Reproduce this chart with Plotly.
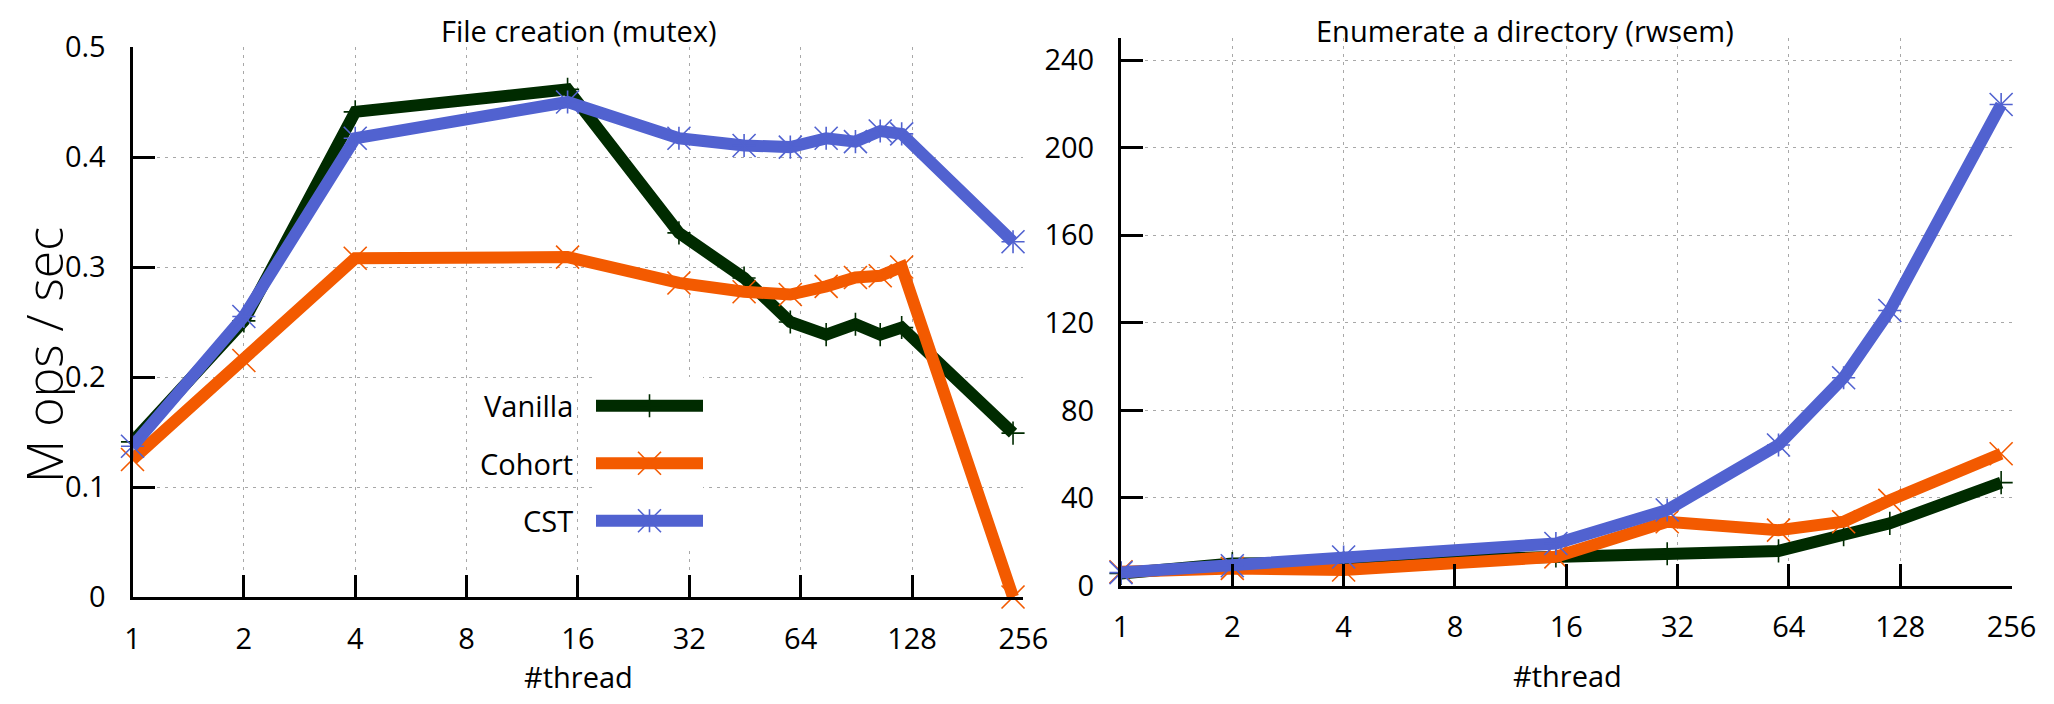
import math
import plotly.graph_objects as go

# page has an 8px body margin: figure fills the window inside it
OFF = 8
W, H = 2054 - 2 * OFF, 704 - 2 * OFF

# ---------------- data ----------------
threads_left = [1, 2, 4, 15, 30, 45, 60, 75, 90, 105, 120, 240]
vanilla_left = [0.141, 0.251, 0.441, 0.4615, 0.331, 0.290, 0.250, 0.2385, 0.248, 0.2385, 0.245, 0.149]
cohort_left = [0.125, 0.215, 0.308, 0.309, 0.2855, 0.2775, 0.275, 0.2824, 0.2905, 0.292, 0.300, 0.0]
cst_left = [0.137, 0.255, 0.417, 0.450, 0.417, 0.4105, 0.409, 0.417, 0.414, 0.4236, 0.421, 0.323]

threads_right = [1, 2, 4, 15, 30, 60, 90, 120, 240]
vanilla_right = [5.5, 10.0, 10.5, 13.5, 14.5, 15.8, 23.2, 28.4, 47.0]
cohort_right = [6.3, 7.8, 7.1, 13.1, 29.1, 25.3, 29.1, 38.9, 60.2]
cst_right = [5.9, 9.0, 13.0, 19.2, 34.5, 64.2, 94.9, 125.6, 219.7]

x_tickvals = [1, 2, 4, 8, 16, 32, 64, 128, 256]
x_ticktext = ["1", "2", "4", "8", "16", "32", "64", "128", "256"]
y_left_ticks = [0, 0.1, 0.2, 0.3, 0.4, 0.5]
y_left_text = ["0", "0.1", "0.2", "0.3", "0.4", "0.5"]
y_right_ticks = [0, 40, 80, 120, 160, 200, 240]
y_right_text = ["0", "40", "80", "120", "160", "200", "240"]

series_names = ["Vanilla", "Cohort", "CST"]
colors = {"Vanilla": "#002b00", "Cohort": "#f35a00", "CST": "#5162d0"}

# legend sample geometry (in legend-axis units)
legend_rows = [2, 1, 0]
legend_x = [0, 1]
legend_mid = [0.5]

FONT = "Open Sans, Noto Sans, DejaVu Sans"
FS = 29


def px(x):
    return (x - OFF) / W


def py(y):
    return 1 - (y - OFF) / H


fig = go.Figure()

LW = 12
MLW = 1.6
sym = {"Vanilla": ["cross-thin"], "Cohort": ["x-thin"], "CST": ["cross-thin", "x-thin"]}
msize = {"cross-thin": 16.5, "x-thin": 23}


def add_series(xs, ys, name, xa, ya):
    c = colors[name]
    syms = sym[name]
    fig.add_trace(go.Scatter(
        x=xs, y=ys, mode="lines+markers", xaxis=xa, yaxis=ya, showlegend=False,
        line=dict(color=c, width=LW),
        marker=dict(symbol=syms[0], size=msize[syms[0]], color=c, line=dict(color=c, width=MLW)),
        cliponaxis=False, name=name))
    for s in syms[1:]:
        fig.add_trace(go.Scatter(
            x=xs, y=ys, mode="markers", xaxis=xa, yaxis=ya, showlegend=False,
            marker=dict(symbol=s, size=msize[s], color=c, line=dict(color=c, width=MLW)),
            cliponaxis=False, name=name))


left_data = {"Vanilla": vanilla_left, "Cohort": cohort_left, "CST": cst_left}
right_data = {"Vanilla": vanilla_right, "Cohort": cohort_right, "CST": cst_right}
for n in series_names:
    add_series(threads_left, left_data[n], n, "x", "y")
for n in series_names:
    add_series(threads_right, right_data[n], n, "x2", "y2")

# custom legend (gnuplot style: label left, sample right)
for n, r in zip(series_names, legend_rows):
    c = colors[n]
    fig.add_trace(go.Scatter(
        x=legend_x, y=[r, r], mode="lines", xaxis="x3", yaxis="y3", showlegend=False,
        line=dict(color=c, width=LW), hoverinfo="skip"))
    for s in sym[n]:
        fig.add_trace(go.Scatter(
            x=legend_mid, y=[r], mode="markers", xaxis="x3", yaxis="y3", showlegend=False,
            marker=dict(symbol=s, size=msize[s], color=c, line=dict(color=c, width=MLW)),
            cliponaxis=False, hoverinfo="skip"))

grid = dict(showgrid=True, gridcolor="#a8a8a8", gridwidth=1.3, griddash="3px,5px")
axis_common = dict(
    showline=True, linecolor="black", linewidth=3, ticks="inside", ticklen=22,
    tickwidth=3, tickcolor="black", zeroline=False, mirror=False, automargin=False,
    tickfont=dict(family=FONT, size=FS, color="black"), **grid)

xaxis_common = dict(type="log", range=[0, math.log10(256)], tickmode="array",
                    tickvals=x_tickvals, ticktext=x_ticktext, ticklabelstandoff=14,
                    **axis_common)

fig.update_layout(
    width=W, height=H,
    margin=dict(l=0, r=0, t=0, b=0, autoexpand=False),
    paper_bgcolor="white", plot_bgcolor="white",
    showlegend=False,
    xaxis=dict(domain=[px(132.5), px(1023.4)], anchor="y", **xaxis_common),
    yaxis=dict(domain=[py(597), py(47)], anchor="x", range=[0, 0.5], tickmode="array",
               tickvals=y_left_ticks, ticktext=y_left_text, ticklabelstandoff=18,
               **axis_common),
    xaxis2=dict(domain=[px(1121), px(2011.5)], anchor="y2", **xaxis_common),
    yaxis2=dict(domain=[py(585.5), py(38.2)], anchor="x2", range=[0, 250], tickmode="array",
                tickvals=y_right_ticks, ticktext=y_right_text, ticklabelstandoff=18,
                **axis_common),
    xaxis3=dict(domain=[px(596), px(703)], anchor="y3", range=[0, 1], visible=False,
                fixedrange=True, automargin=False),
    yaxis3=dict(domain=[py(549.5), py(377)], anchor="x3", range=[-0.5, 2.5], visible=False,
                fixedrange=True, automargin=False),
)

# white legend box covering gridlines
fig.add_shape(type="rect", xref="paper", yref="paper",
              x0=px(427), x1=px(725), y0=py(548), y1=py(379),
              fillcolor="white", line=dict(width=0), layer="between")

ann_font = dict(family=FONT, size=FS, color="black")
annotations = [
    dict(text="File creation (mutex)", x=px(579), y=py(30), xanchor="center", yanchor="middle"),
    dict(text="Enumerate a directory (rwsem)", x=px(1525), y=py(30), xanchor="center", yanchor="middle"),
    dict(text="#thread", x=px(578), y=py(676), xanchor="center", yanchor="middle"),
    dict(text="#thread", x=px(1567), y=py(675), xanchor="center", yanchor="middle"),
]
for n, yy in zip(series_names, [405.7, 463.3, 520.7]):
    annotations.append(dict(text=n, x=px(575), y=py(yy), xanchor="right", yanchor="middle"))
for a in annotations:
    fig.add_annotation(xref="paper", yref="paper", showarrow=False, font=ann_font, **a)

fig.add_annotation(text="M ops / sec", xref="paper", yref="paper", x=px(44), y=py(355),
                   xanchor="center", yanchor="middle", textangle=-90, showarrow=False,
                   font=dict(family=FONT, size=50, color="black", weight=300))

fig.write_html("out.html")
